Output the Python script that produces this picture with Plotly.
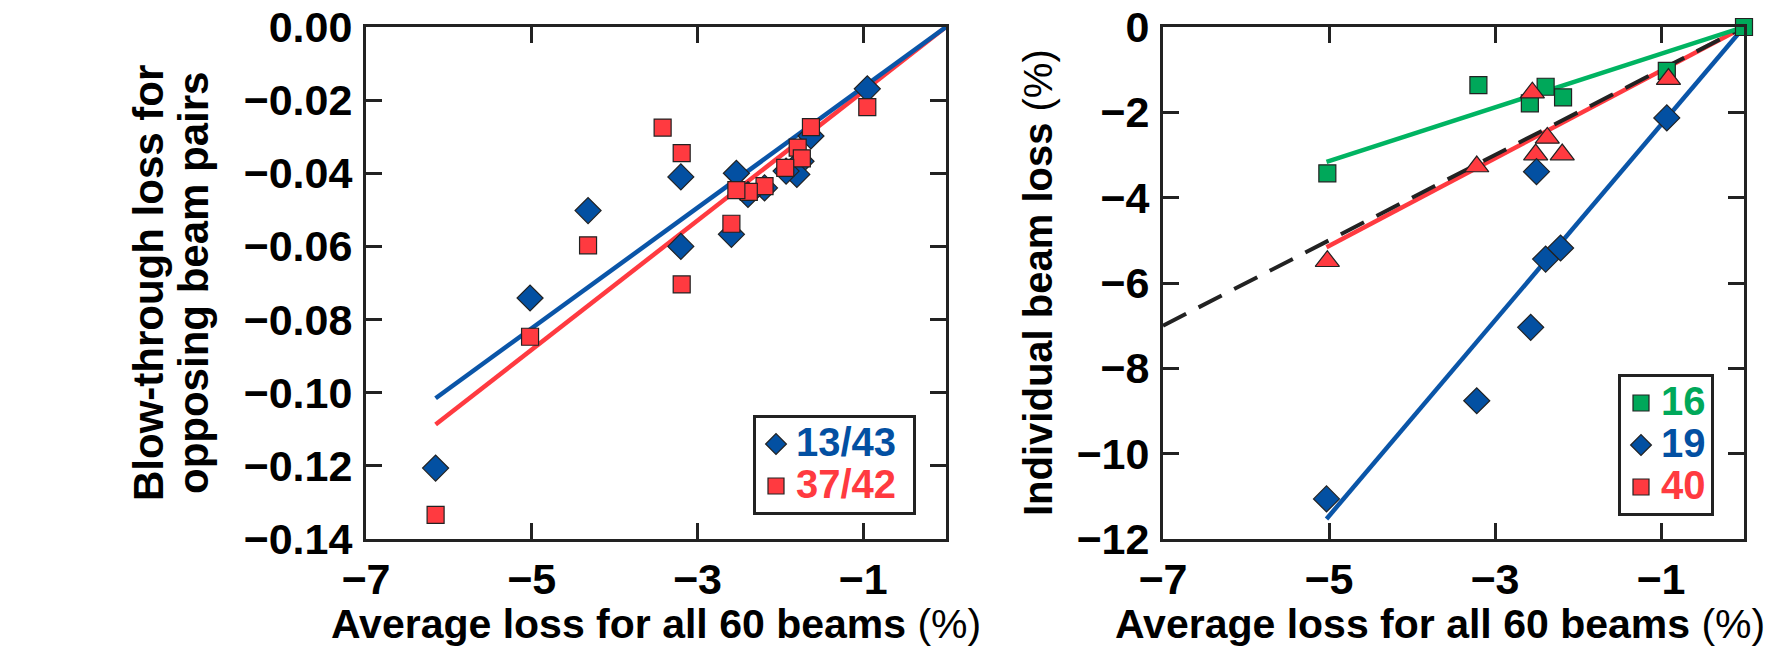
import plotly.graph_objects as go

# ---------------- data: left panel ----------------
avg_1343 = [-0.95, -1.63, -1.75, -1.80, -1.93, -2.19, -2.39, -2.53, -2.59, -3.20, -3.20, -4.32, -5.02, -6.16]
bt_1343 = [-0.0169, -0.0298, -0.0367, -0.0403, -0.0394, -0.0440, -0.0458, -0.0400, -0.0567, -0.0410, -0.0600, -0.0502, -0.0741, -0.1206]

avg_3742 = [-0.95, -1.63, -1.79, -1.74, -1.94, -2.19, -2.38, -2.53, -2.59, -3.42, -3.19, -4.32, -3.19, -5.02, -6.16]
bt_3742 = [-0.0219, -0.0274, -0.0330, -0.0359, -0.0385, -0.0435, -0.0451, -0.0446, -0.0538, -0.0275, -0.0345, -0.0597, -0.0704, -0.0847, -0.1334]

fit_x_left = [-6.16, 0.0]
fit_1343 = [-0.1015, 0.0]
fit_3742 = [-0.1087, 0.0]

# ---------------- data: right panel ----------------
avg_b16 = [0.0, -0.93, -3.20, -2.39, -2.58, -2.18, -5.02]
loss_b16 = [0.0, -1.03, -1.36, -1.40, -1.79, -1.65, -3.43]

avg_b19 = [-0.93, -2.50, -2.39, -2.21, -2.57, -3.22, -5.03]
loss_b19 = [-2.13, -3.39, -5.44, -5.18, -7.04, -8.76, -11.06]

avg_b40 = [-0.91, -2.55, -2.37, -2.51, -2.19, -3.22, -5.02]
loss_b40 = [-1.22, -1.54, -2.60, -2.99, -2.99, -3.27, -5.49]

fit_x_right = [-5.03, 0.0]
fit_b16 = [-3.16, 0.0]
fit_b19 = [-11.53, 0.0]
fit_b40 = [-5.16, 0.0]
ref_x = [-7.0, 0.0]
ref_y = [-7.0, 0.0]

x_ticks = [-7, -5, -3, -1]
left_yticks = [0, -0.02, -0.04, -0.06, -0.08, -0.10, -0.12, -0.14]
right_yticks = [0, -2, -4, -6, -8, -10, -12]

# ---------------- styles / geometry ----------------
BLUE = "#0350A2"
BLUE_LINE = "#0A55A8"
RED = "#FF3A40"
GREEN = "#00A85A"
GREEN_LINE = "#00B462"
INK = "#222222"
FONT = "Liberation Sans, Arial, Helvetica, sans-serif"

FW, FH = 1769, 648
PLOT_TOP, PLOT_BOTTOM = 27, 539   # screen pixels of the plot frames


def px(X):
    return X / FW


def py(Y):
    return (PLOT_BOTTOM - Y) / (PLOT_BOTTOM - PLOT_TOP)


def legend_name(text, color):
    return f"<span style='color:{color};font-size:40px'>{text}</span>"


fig = go.Figure()

# left panel lines
fig.add_trace(go.Scatter(x=fit_x_left, y=fit_3742, mode="lines", line=dict(color=RED, width=4.5),
                         showlegend=False, xaxis="x", yaxis="y", hoverinfo="skip"))
fig.add_trace(go.Scatter(x=fit_x_left, y=fit_1343, mode="lines", line=dict(color=BLUE_LINE, width=4.5),
                         showlegend=False, xaxis="x", yaxis="y", hoverinfo="skip"))
# left panel markers
fig.add_trace(go.Scatter(x=avg_1343, y=bt_1343, mode="markers", name=legend_name("13/43\u00a0", BLUE),
                         marker=dict(symbol="diamond", size=20, color=BLUE, line=dict(color=INK, width=1.2)),
                         xaxis="x", yaxis="y", legend="legend", cliponaxis=False))
fig.add_trace(go.Scatter(x=avg_3742, y=bt_3742, mode="markers", name=legend_name("37/42\u00a0", RED),
                         marker=dict(symbol="square", size=17, color=RED, line=dict(color=INK, width=1.2)),
                         xaxis="x", yaxis="y", legend="legend", cliponaxis=False))

# right panel lines
fig.add_trace(go.Scatter(x=fit_x_right, y=fit_b40, mode="lines", line=dict(color=RED, width=4.5),
                         showlegend=False, xaxis="x2", yaxis="y2", hoverinfo="skip"))
fig.add_trace(go.Scatter(x=ref_x, y=ref_y, mode="lines", line=dict(color=INK, width=4, dash="26px,14px"),
                         showlegend=False, xaxis="x2", yaxis="y2", hoverinfo="skip"))
fig.add_trace(go.Scatter(x=fit_x_right, y=fit_b16, mode="lines", line=dict(color=GREEN_LINE, width=4.5),
                         showlegend=False, xaxis="x2", yaxis="y2", hoverinfo="skip"))
fig.add_trace(go.Scatter(x=fit_x_right, y=fit_b19, mode="lines", line=dict(color=BLUE_LINE, width=4.5),
                         showlegend=False, xaxis="x2", yaxis="y2", hoverinfo="skip"))
# right panel markers
fig.add_trace(go.Scatter(x=avg_b16, y=loss_b16, mode="markers", name=legend_name("16", GREEN),
                         marker=dict(symbol="square", size=17, color=GREEN, line=dict(color=INK, width=1.2)),
                         xaxis="x2", yaxis="y2", legend="legend2", legendrank=1, cliponaxis=False))
fig.add_trace(go.Scatter(x=avg_b40, y=loss_b40, mode="markers", showlegend=False,
                         marker=dict(symbol="triangle-up", size=21, color=RED, line=dict(color=INK, width=1.2)),
                         xaxis="x2", yaxis="y2", cliponaxis=False))
fig.add_trace(go.Scatter(x=avg_b19, y=loss_b19, mode="markers", name=legend_name("19", BLUE),
                         marker=dict(symbol="diamond", size=20, color=BLUE, line=dict(color=INK, width=1.2)),
                         xaxis="x2", yaxis="y2", legend="legend2", legendrank=2, cliponaxis=False))
# legend-only entry (the original key shows a square for beam 40)
fig.add_trace(go.Scatter(x=[None], y=[None], mode="markers", name=legend_name("40", RED),
                         marker=dict(symbol="square", size=17, color=RED, line=dict(color=INK, width=1.2)),
                         xaxis="x2", yaxis="y2", legend="legend2", legendrank=3))

tickfont = dict(family=FONT, size=43, color="black", weight="bold")
axis_common = dict(showline=True, linewidth=3, linecolor=INK, mirror="ticks", ticks="inside",
                   ticklen=16, tickwidth=3, tickcolor=INK, showgrid=False, zeroline=False,
                   tickfont=tickfont, fixedrange=True, automargin=False, ticklabeloverflow="allow")

legend_common = dict(xanchor="right", yanchor="bottom", bgcolor="white", bordercolor=INK, borderwidth=3,
                     font=dict(family=FONT, size=30, weight="bold"), itemsizing="trace", tracegroupgap=0)

fig.update_layout(
    width=FW, height=FH, autosize=False,
    margin=dict(l=0, r=0, t=PLOT_TOP, b=FH - PLOT_BOTTOM, pad=0, autoexpand=False),
    paper_bgcolor="white", plot_bgcolor="white",
    font=dict(family=FONT, color="black"),
    xaxis=dict(domain=[px(366), px(946)], range=[-7, 0], tickvals=x_ticks, anchor="y",
               ticklabelstandoff=0, **axis_common),
    yaxis=dict(domain=[0, 1], range=[-0.14, 0], tickvals=left_yticks, tickformat=".2f", anchor="x",
               ticklabelstandoff=2, **axis_common),
    xaxis2=dict(domain=[px(1163), px(1744)], range=[-7, 0], tickvals=x_ticks, anchor="y2",
                ticklabelstandoff=0, **axis_common),
    yaxis2=dict(domain=[0, 1], range=[-12, 0], tickvals=right_yticks, anchor="x2",
                ticklabelstandoff=2, **axis_common),
    legend=dict(x=px(916), y=py(515), **legend_common),
    legend2=dict(x=px(1714), y=py(516), **legend_common),
)

xtitle_font = dict(family=FONT, size=41, color="black", weight="normal")
ytitle_font_l = dict(family=FONT, size=42, color="black", weight="normal")
ytitle_font_r = dict(family=FONT, size=40, color="black", weight="normal")
xtitle = "<b>Average loss for all 60 beams</b> (%)"
annotations = [
    dict(text=xtitle, x=px(656), y=py(648), xref="paper", yref="paper", xanchor="center", yanchor="bottom",
         showarrow=False, font=xtitle_font, borderpad=0),
    dict(text=xtitle, x=px(1766), y=py(648), xref="paper", yref="paper", xanchor="right", yanchor="bottom",
         showarrow=False, font=xtitle_font, borderpad=0),
    dict(text="<b>Blow-through loss for</b>", x=px(148), y=0.5, textangle=-90,
         xref="paper", yref="paper", xanchor="center", yanchor="middle", showarrow=False, font=ytitle_font_l),
    dict(text="<b>opposing beam pairs</b>", x=px(193), y=0.5, textangle=-90,
         xref="paper", yref="paper", xanchor="center", yanchor="middle", showarrow=False, font=ytitle_font_l),
    dict(text="<b>Individual beam loss</b> (%)", x=px(1038), y=0.5, textangle=-90,
         xref="paper", yref="paper", xanchor="center", yanchor="middle", showarrow=False, font=ytitle_font_r),
]
fig.update_layout(annotations=annotations)

# the figure fills the 1769x648 window exactly: drop the page's default body margin
fig.write_html("out.html", config={"displayModeBar": False},
               post_script="document.body.style.margin='0';document.body.style.overflow='hidden';")
